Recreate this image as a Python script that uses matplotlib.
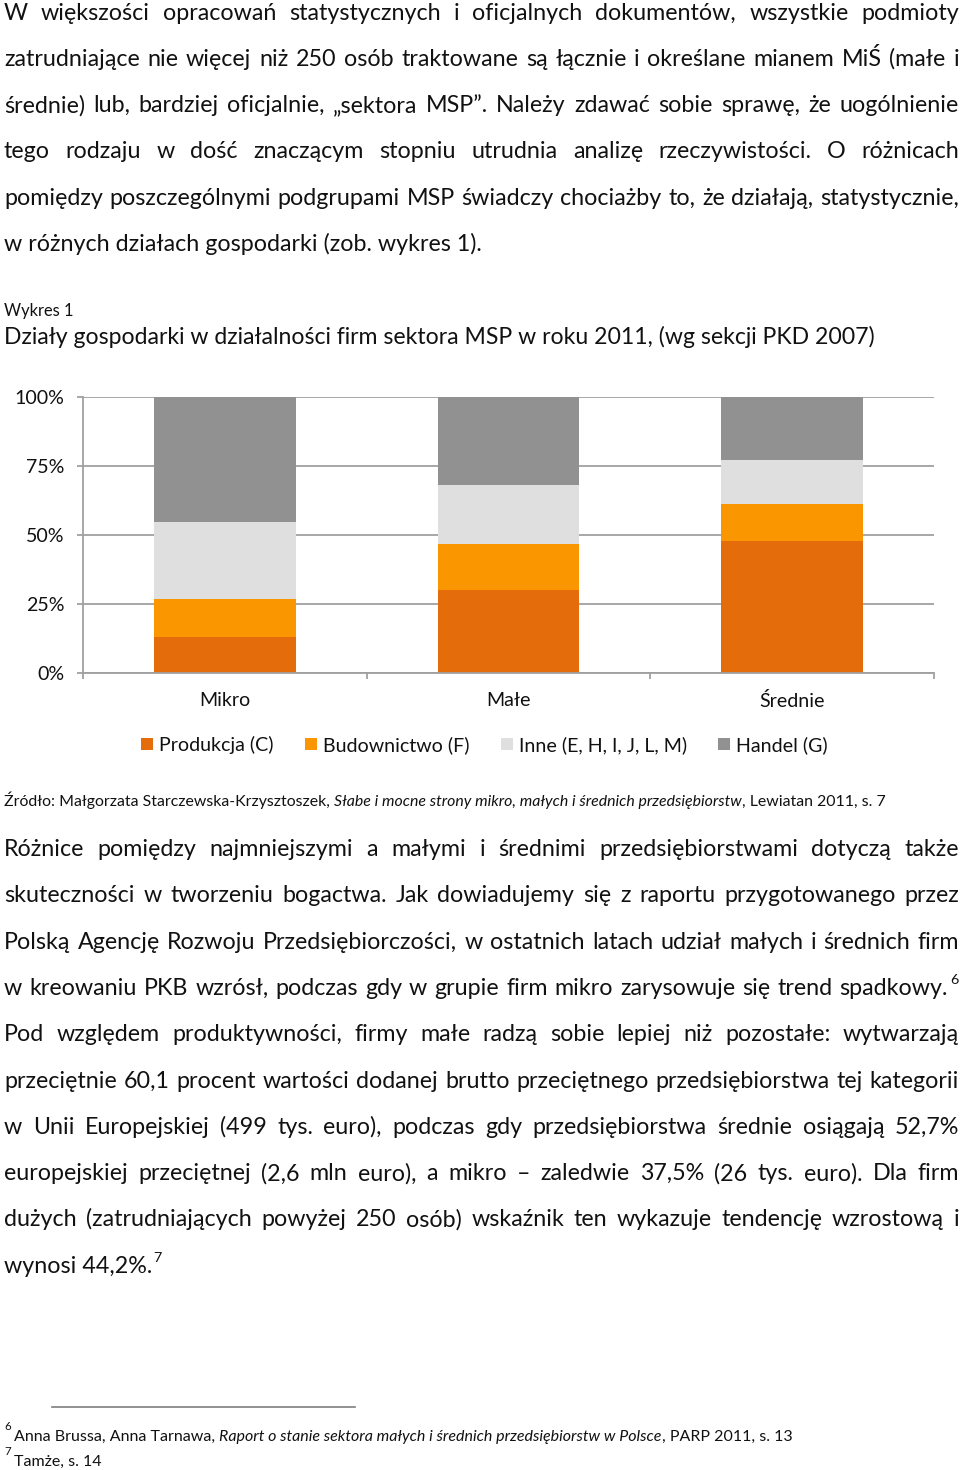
import matplotlib
matplotlib.use('Agg')
import matplotlib.pyplot as plt
import numpy as np
from matplotlib.lines import Line2D

plt.rcParams['font.family'] = ['Lato', 'DejaVu Sans']

W, H = 960, 1470

# chart data (percent of firms in each size class)
categories = ['Mikro', 'Małe', 'Średnie']
sectors = ['Produkcja (C)', 'Budownictwo (F)', 'Inne (E, H, I, J, L, M)', 'Handel (G)']
produkcja = [13.1, 29.9, 47.8]
budownictwo = [13.7, 16.8, 13.5]
inne = [27.7, 21.4, 15.7]
handel = [45.5, 31.9, 23.0]
colors = ['#e46c0a', '#fa9600', '#dfdfdf', '#919191']
y_ticks = [0, 25, 50, 75, 100]
y_tick_labels = ['0%', '25%', '50%', '75%', '100%']

# page text, one entry per printed line; _ toggles italics
par1 = [
    'W większości opracowań statystycznych i oficjalnych dokumentów, wszystkie podmioty',
    'zatrudniające nie więcej niż 250 osób traktowane są łącznie i określane mianem MiŚ  (małe i',
    'średnie) lub, bardziej oficjalnie, „sektora MSP”. Należy zdawać sobie sprawę, że uogólnienie',
    'tego rodzaju w dość znaczącym stopniu utrudnia analizę rzeczywistości. O różnicach',
    'pomiędzy poszczególnymi podgrupami MSP świadczy chociażby to, że działają, statystycznie,',
    'w różnych działach gospodarki (zob. wykres 1).',
]
par2 = [
    'Różnice pomiędzy najmniejszymi a małymi i średnimi przedsiębiorstwami dotyczą także',
    'skuteczności w tworzeniu bogactwa. Jak dowiadujemy się z raportu przygotowanego przez',
    'Polską Agencję Rozwoju Przedsiębiorczości, w ostatnich latach udział małych i średnich firm',
    'w kreowaniu PKB wzrósł, podczas gdy w grupie firm mikro zarysowuje się trend spadkowy.',
    'Pod względem produktywności, firmy małe radzą sobie lepiej niż pozostałe: wytwarzają',
    'przeciętnie 60,1 procent wartości dodanej brutto przeciętnego przedsiębiorstwa tej kategorii',
    'w Unii Europejskiej (499 tys. euro), podczas gdy przedsiębiorstwa średnie osiągają 52,7%',
    'europejskiej przeciętnej (2,6 mln euro), a mikro – zaledwie 37,5% (26 tys. euro). Dla firm',
    'dużych (zatrudniających powyżej 250 osób) wskaźnik ten wykazuje tendencję wzrostową i',
    'wynosi 44,2%.',
]
chart_label = 'Wykres 1'
chart_title = 'Działy gospodarki w działalności firm sektora MSP w roku 2011, (wg sekcji PKD 2007)'
source = ('Źródło: Małgorzata Starczewska-Krzysztoszek, _Słabe i mocne strony mikro, małych i '
          'średnich przedsiębiorstw_, Lewiatan 2011, s. 7')
footnote6 = ('Anna Brussa, Anna Tarnawa, _Raport o stanie sektora małych i średnich '
             'przedsiębiorstw w Polsce_, PARP 2011, s. 13')
footnote7 = 'Tamże, s. 14'

fig = plt.figure(figsize=(W / 100, H / 100), dpi=100)
fig.patch.set_facecolor('white')
renderer = fig.canvas.get_renderer()
TXT = '#111111'


def fy(y):
    return 1 - y / H


def put(x, y, s, size, style='normal'):
    return fig.text(x / W, fy(y), s, fontsize=size, fontstyle=style,
                    va='baseline', ha='left', color=TXT)


def ink(s, size, style='normal'):
    t = put(0, 0, s, size, style)
    w = t.get_window_extent(renderer).width
    t.remove()
    return w


def adv(s, size, style='normal'):
    # advance width: pad with x on both sides so bearings and spaces count
    return ink('x' + s + 'x', size, style) - ink('xx', size, style)


def split_words(line):
    words, italic = [], False
    for w in line.split():
        parts = []
        for i, p in enumerate(w.split('_')):
            if i > 0:
                italic = not italic
            if p:
                parts.append((p, 'italic' if italic else 'normal'))
        words.append(parts)
    return words


def runs(line):
    out = []
    for i, seg in enumerate(line.split('_')):
        if seg:
            out.append((seg, 'italic' if i % 2 else 'normal'))
    return out


def natural_width(line, size):
    return sum(adv(s, size, st) for s, st in runs(line))


def draw_line(x0, y, line, size, x1=None):
    if x1 is None:
        x = x0
        for s, st in runs(line):
            put(x, y, s, size, st)
            x += adv(s, size, st)
        return x
    words = split_words(line)
    widths = [[adv(p, size, st) for p, st in w] for w in words]
    total = sum(sum(w) for w in widths)
    gap = (x1 - x0 - total) / (len(words) - 1)
    x = x0
    for w, ws in zip(words, widths):
        for (p, st), pw in zip(w, ws):
            put(x, y, p, size, st)
            x += pw
        x += gap
    return x - gap


def fit(line, target):
    return 10 * target / natural_width(line, 10)


body = fit(par1[-1], 478)
pitch = 46.3

# paragraph 1
for i, line in enumerate(par1):
    last = i == len(par1) - 1
    draw_line(4, 19.5 + i * pitch, line, body, None if last else 959)

# chart caption
put(4, 316, chart_label, fit(chart_label, 70))
put(4, 344, chart_title, fit(chart_title, 868))

# chart
ax = fig.add_axes([83 / W, 1 - 672.7 / H, 851 / W, 275.7 / H])
xs = np.arange(len(categories))
bottom = np.zeros(len(categories))
for name, vals, c in zip(sectors, [produkcja, budownictwo, inne, handel], colors):
    ax.bar(xs, vals, 0.5, bottom=bottom, color=c, label=name, zorder=2)
    bottom += np.array(vals)

chart_size = fit(sectors[2], 168)
grid_c = '#a0a0a0'
ax.set_xlim(-0.5, 2.5)
ax.set_ylim(0, 100)
ax.set_yticks(y_ticks, y_tick_labels)
ax.set_xticks(xs, categories)
ax.set_xticks([-0.5, 0.5, 1.5, 2.5], minor=True)
ax.yaxis.grid(True, color=grid_c, lw=1.3)
ax.set_axisbelow(True)
for s in ['top', 'right']:
    ax.spines[s].set_visible(False)
for s in ['left', 'bottom']:
    ax.spines[s].set_color(grid_c)
    ax.spines[s].set_linewidth(1.3)
ax.tick_params(axis='y', length=4.5, width=1.3, color=grid_c, pad=9,
               labelsize=chart_size, labelcolor=TXT)
ax.tick_params(axis='x', which='major', length=0, pad=14,
               labelsize=chart_size, labelcolor=TXT)
ax.tick_params(axis='x', which='minor', length=4.5, width=1.3, color=grid_c)
ax.patch.set_alpha(0)

ax.legend(loc='center', bbox_to_anchor=(484.5 / W, fy(745)), bbox_transform=fig.transFigure,
          ncol=4, frameon=False, fontsize=chart_size, handlelength=0.6, handleheight=0.6,
          handletextpad=0.3, columnspacing=1.6, borderpad=0, labelcolor=TXT)

# source line
draw_line(4, 806, source, fit(source, 880))

# paragraph 2
sup = body * 0.62
for i, line in enumerate(par2):
    y = 856 + i * pitch
    if i == 3:
        draw_line(4, y, line, body, 948)
        put(950, y - 11, '6', sup)
    elif i == len(par2) - 1:
        end = draw_line(4, y, line, body)
        put(end + 1, y - 11, '7', sup)
    else:
        draw_line(4, y, line, body, 959)

# footnotes
fig.add_artist(Line2D([52 / W, 355 / W], [fy(1407), fy(1407)], color='#7f7f7f', lw=1.2))
fn = fit(footnote6, 777)
put(4, 1430, '6', fn * 0.72)
draw_line(14, 1441, footnote6, fn)
put(4, 1455, '7', fn * 0.72)
draw_line(14, 1466, footnote7, fn)

fig.savefig('out.png', dpi=100, facecolor='white')
